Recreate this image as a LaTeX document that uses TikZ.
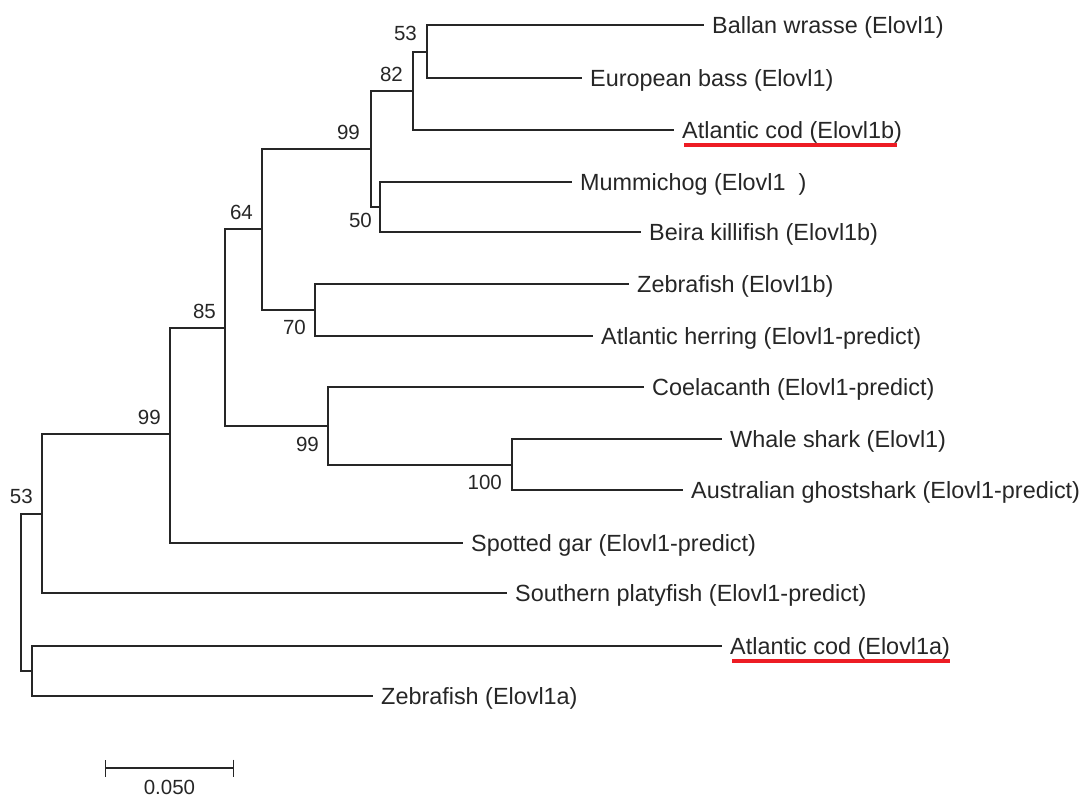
\documentclass[tikz,border=0pt]{standalone}
\usepackage{fontspec}
\setmainfont{Liberation Sans}
\usepackage{tikz}
\usetikzlibrary{positioning, arrows.meta}
\definecolor{codred}{RGB}{237,28,36}

\begin{document}
\begin{tikzpicture}[
        x=1pt, y=-1pt, % pixel grid, y pointing down
        branch/.style={line width=1.4pt, black!85}, % Branch style
        leaf/.style={anchor=west, inner xsep=8pt, inner ysep=0pt, text height=16.8pt, text depth=0pt, text=black!85, font=\fontsize{23.4}{28}\selectfont}, % Leaf label style
        boot/.style={inner sep=0pt, text height=14.7pt, text depth=0pt, text=black!85, font=\fontsize{20.5}{24}\selectfont}, % Bootstrap value style
        codline/.style={line width=4pt, codred} % Underline style
    ]
    \useasboundingbox (0,0) rectangle (1089,811);

    % Leaf labels
    \node (ballan)  [leaf] at (704,25)  {Ballan wrasse (Elovl1)};
    \node (eurbass) [leaf] at (582,78)  {European bass (Elovl1)};
    \node (codb)    [leaf] at (674,130) {Atlantic cod (Elovl1b)};
    \node (mummi)   [leaf] at (572,182) {Mummichog (Elovl1\ \ )};
    \node (beira)   [leaf] at (641,232) {Beira killifish (Elovl1b)};
    \node (zebb)    [leaf] at (629,284) {Zebrafish (Elovl1b)};
    \node (herring) [leaf] at (593,336) {Atlantic herring (Elovl1-predict)};
    \node (coela)   [leaf] at (644,387) {Coelacanth (Elovl1-predict)};
    \node (whale)   [leaf] at (722,439) {Whale shark (Elovl1)};
    \node (ghost)   [leaf] at (683,490) {Australian ghostshark (Elovl1-predict)};
    \node (gar)     [leaf] at (463,543) {Spotted gar (Elovl1-predict)};
    \node (platy)   [leaf] at (507,593) {Southern platyfish (Elovl1-predict)};
    \node (coda)    [leaf] at (722,646) {Atlantic cod (Elovl1a)};
    \node (zeba)    [leaf] at (373,696) {Zebrafish (Elovl1a)};

    % Internal nodes
    \coordinate (n53a) at (427,52);
    \coordinate (n82)  at (413,91);
    \coordinate (n50)  at (380,207);
    \coordinate (n99a) at (371,149);
    \coordinate (n70)  at (315,310);
    \coordinate (n64)  at (262,229);
    \coordinate (n100) at (512,465);
    \coordinate (n99b) at (328,426);
    \coordinate (n85)  at (225,328);
    \coordinate (n99c) at (170,434);
    \coordinate (n53b) at (42,514);
    \coordinate (ncod) at (32,671);
    \coordinate (root) at (21,592);

    % Branches
    \draw[branch] (n53a) |- (ballan);
    \draw[branch] (n53a) |- (eurbass);
    \draw[branch] (n82) |- (n53a);
    \draw[branch] (n82) |- (codb);
    \draw[branch] (n50) |- (mummi);
    \draw[branch] (n50) |- (beira);
    \draw[branch] (n99a) |- (n82);
    \draw[branch] (n99a) |- (n50);
    \draw[branch] (n70) |- (zebb);
    \draw[branch] (n70) |- (herring);
    \draw[branch] (n64) |- (n99a);
    \draw[branch] (n64) |- (n70);
    \draw[branch] (n100) |- (whale);
    \draw[branch] (n100) |- (ghost);
    \draw[branch] (n99b) |- (coela);
    \draw[branch] (n99b) |- (n100);
    \draw[branch] (n85) |- (n64);
    \draw[branch] (n85) |- (n99b);
    \draw[branch] (n99c) |- (n85);
    \draw[branch] (n99c) |- (gar);
    \draw[branch] (n53b) |- (n99c);
    \draw[branch] (n53b) |- (platy);
    \draw[branch] (ncod) |- (coda);
    \draw[branch] (ncod) |- (zeba);
    \draw[branch] (root) |- (n53b);
    \draw[branch] (root) |- (ncod);

    % Bootstrap values
    \node (b53a) [boot, above left=11pt and 10pt of n53a] {53};
    \node (b82)  [boot, above left=9pt and 10pt of n82] {82};
    \node (b99a) [boot, above left=9pt and 11pt of n99a] {99};
    \node (b50)  [boot, below left=6pt and 8pt of n50] {50};
    \node (b64)  [boot, above left=9pt and 9pt of n64] {64};
    \node (b70)  [boot, below left=10pt and 9pt of n70] {70};
    \node (b85)  [boot, above left=9pt and 9pt of n85] {85};
    \node (b99b) [boot, below left=11pt and 9pt of n99b] {99};
    \node (b100) [boot, below left=10pt and 10pt of n100] {100};
    \node (b99c) [boot, above left=9pt and 9pt of n99c] {99};
    \node (b53b) [boot, above left=10pt and 9pt of n53b] {53};

    % Underlines
    \draw[codline] ([xshift=10pt, yshift=-6.6pt]codb.south west) -- ([xshift=-13pt, yshift=-6.6pt]codb.south east);
    \draw[codline] ([xshift=10pt, yshift=-6.6pt]coda.south west) -- ([xshift=-8pt, yshift=-6.6pt]coda.south east);

    % Scale bar
    \coordinate (sbl) at (105,768);
    \coordinate (sbr) at (234,768);
    \draw[branch, {Bar[width=17pt]}-{Bar[width=17pt]}] (sbl) -- (sbr) coordinate[midway] (sbm);
    \node (sblab) [boot, below=12pt of sbm] {0.050};

\end{tikzpicture}
\end{document}
